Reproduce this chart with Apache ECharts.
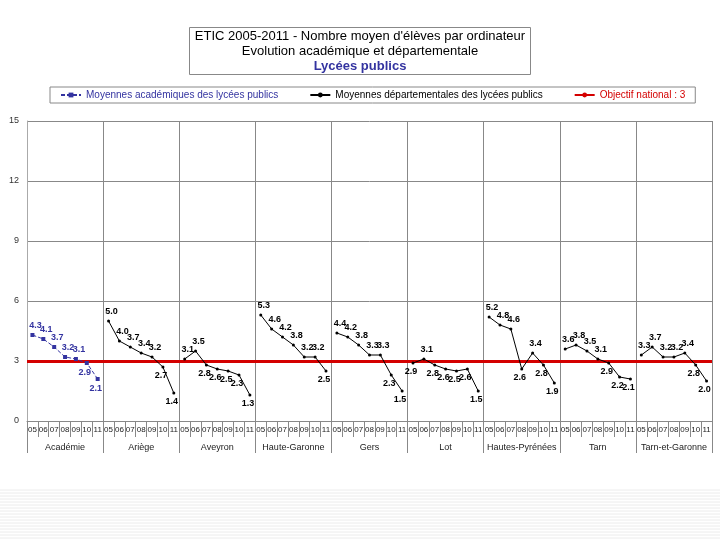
<!DOCTYPE html>
<html>
<head>
<meta charset="utf-8">
<script src="https://cdn.jsdelivr.net/npm/echarts@6/dist/echarts.min.js"></script>
<style>html,body{margin:0;padding:0;background:#fff;}#c{width:720px;height:540px;}</style>
</head>
<body>
<div id="c"></div>
<script>
const years = ['05','06','07','08','09','10','11'];
const groups = ['Académie','Ariège','Aveyron','Haute-Garonne','Gers','Lot','Hautes-Pyrénées','Tarn','Tarn-et-Garonne'];
const academie = [4.3, 4.1, 3.7, 3.2, 3.1, 2.9, 2.1];
const ariege = [5.0, 4.0, 3.7, 3.4, 3.2, 2.7, 1.4];
const aveyron = [3.1, 3.5, 2.8, 2.6, 2.5, 2.3, 1.3];
const hauteGaronne = [5.3, 4.6, 4.2, 3.8, 3.2, 3.2, 2.5];
const gers = [4.4, 4.2, 3.8, 3.3, 3.3, 2.3, 1.5];
const lot = [2.9, 3.1, 2.8, 2.6, 2.5, 2.6, 1.5];
const hautesPyrenees = [5.2, 4.8, 4.6, 2.6, 3.4, 2.8, 1.9];
const tarn = [3.6, 3.8, 3.5, 3.1, 2.9, 2.2, 2.1];
const tarnEtGaronne = [3.3, 3.7, 3.2, 3.2, 3.4, 2.8, 2.0];
const objectifNational = 3;
const yTicks = [0, 3, 6, 9, 12, 15];

const deptValues = [ariege, aveyron, hauteGaronne, gers, lot, hautesPyrenees, tarn, tarnEtGaronne];
const nameAcad = 'Moyennes académiques des lycées publics';
const nameDept = 'Moyennes départementales des lycées publics';
const nameObj = 'Objectif national : 3';

const cats = [];
groups.forEach(() => years.forEach(y => cats.push(y)));
const N = cats.length;

// labels go below the point when it lies under the national objective line
function placed(vals, groupIndex) {
  const arr = new Array(N).fill(null);
  vals.forEach((v, i) => {
    const below = v < objectifNational;
    arr[groupIndex * years.length + i] = {
      value: v,
      label: below ? { position: 'bottom', offset: [-2, 0] } : { position: 'top', offset: [3, 0] }
    };
  });
  return arr;
}

const font = "'Liberation Sans Narrow','Liberation Sans',Arial,sans-serif";
const labelCfg = (color) => ({
  show: true, position: 'top', distance: 3, fontSize: 9, fontWeight: 'bold', color: color,
  fontFamily: font,
  formatter: p => (p.value == null ? '' : Number(p.value).toFixed(1))
});

const series = [];
series.push({
  name: nameAcad, type: 'line', data: placed(academie, 0),
  symbol: 'rect', symbolSize: 4, color: '#3333a0',
  lineStyle: { width: 1, type: [4, 2], color: '#3333a0' },
  itemStyle: { color: '#3333a0' },
  label: labelCfg('#3333a0'), connectNulls: false, z: 5
});
deptValues.forEach((vals, k) => {
  series.push({
    name: nameDept, type: 'line', data: placed(vals, k + 1),
    symbol: 'circle', symbolSize: 3, color: '#000',
    lineStyle: { width: 1, color: '#000' },
    itemStyle: { color: '#000' },
    label: labelCfg('#000'), connectNulls: false, z: 5
  });
});
series.push({
  name: nameObj, type: 'line', data: [], color: '#d40000', symbol: 'none',
  lineStyle: { width: 3, color: '#d40000' },
  markLine: {
    silent: true, symbol: ['none', 'none'], label: { show: false },
    lineStyle: { type: 'solid', width: 3, color: '#d40000' },
    data: [{ yAxis: objectifNational }]
  }, z: 3
});

// faint slide background stripes
const stripes = [];
for (let y = 490; y < 540; y += 3) {
  stripes.push({ type: 'line', silent: true, z: -10, shape: { x1: 0, y1: y, x2: 720, y2: y }, style: { stroke: '#ececec', lineWidth: 1 } });
}

const chart = echarts.init(document.getElementById('c'), null, { renderer: 'canvas' });
chart.setOption({
  backgroundColor: '#fff',
  animation: false,
  textStyle: { fontFamily: font },
  graphic: stripes,
  title: {
    left: 'center', top: 26,
    borderColor: '#888', borderWidth: 1, padding: [3, 6, 2, 6],
    text: '{a|ETIC 2005-2011 - Nombre moyen d\'élèves par ordinateur}\n{a|Evolution académique et départementale}\n{b|Lycées publics}',
    textStyle: {
      fontWeight: 'normal',
      rich: {
        a: { fontSize: 13, color: '#000', fontWeight: 'normal', fontFamily: font, lineHeight: 15, align: 'center' },
        b: { fontSize: 13, color: '#3333a0', fontWeight: 'bold', fontFamily: font, lineHeight: 15, align: 'center' }
      }
    }
  },
  legend: {
    left: 50, top: 87,
    borderColor: '#888', borderWidth: 1, padding: [3, 10, 3, 10],
    itemGap: 31, itemWidth: 20, itemHeight: 6,
    textStyle: { fontSize: 10, fontWeight: 'normal', fontFamily: font },
    data: [
      { name: nameAcad, textStyle: { color: '#3333a0' } },
      { name: nameDept, textStyle: { color: '#000' } },
      { name: nameObj, textStyle: { color: '#d40000' } }
    ]
  },
  grid: { left: 27, right: 8, top: 121, bottom: 119, containLabel: false },
  xAxis: [
    {
      type: 'category', data: cats, boundaryGap: true, position: 'bottom',
      axisLine: { show: true, lineStyle: { color: '#888' } },
      axisTick: { show: true, interval: 0, length: 16, lineStyle: { color: '#888' } },
      axisLabel: { interval: 0, fontSize: 8, margin: 5, color: '#222', fontFamily: font },
      splitLine: { show: false }
    },
    {
      type: 'category', data: groups, boundaryGap: true, position: 'bottom',
      axisLine: { show: false },
      axisTick: { show: true, interval: 0, length: 32, lineStyle: { color: '#888' } },
      axisLabel: { interval: 0, fontSize: 9, margin: 22, color: '#222', fontFamily: font },
      splitLine: { show: true, interval: 0, lineStyle: { color: '#888', width: 1 } }
    }
  ],
  yAxis: {
    type: 'value', min: yTicks[0], max: yTicks[yTicks.length - 1], interval: yTicks[1] - yTicks[0],
    axisLine: { show: true, lineStyle: { color: '#aaa' } },
    axisTick: { show: false },
    axisLabel: { fontSize: 9, margin: 8, color: '#333', fontFamily: font },
    splitLine: { show: true, lineStyle: { color: '#888' } }
  },
  series: series
});
</script>
</body>
</html>
